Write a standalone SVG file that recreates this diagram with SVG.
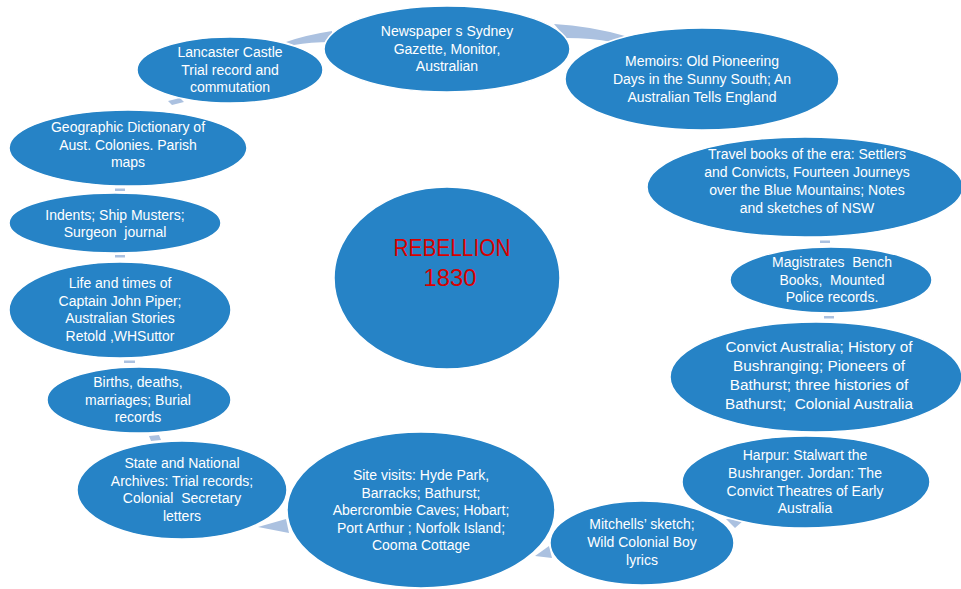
<svg xmlns="http://www.w3.org/2000/svg" width="961" height="589" viewBox="0 0 961 589">
<style>
.n{fill:#2683c6;stroke:#ffffff;stroke-width:1.5}
.t{font-family:"Liberation Sans",Arial,sans-serif;font-size:14px;fill:#ffffff;text-anchor:middle;white-space:pre}
.c{fill:#abc1e0;stroke:none}
.r{font-family:"Liberation Sans",Arial,sans-serif;font-size:23px;fill:#d80000;text-anchor:middle}
</style>
<rect width="961" height="589" fill="#ffffff"/>
<g id="connectors">
<path class="c" d="M286,42 Q306,35 332,31 L332,42 Q310,42 294,45 Z"/>
<path class="c" d="M554,24 Q590,26 625,36 L612,42 Q592,38 566,38 Z"/>
<rect class="c" x="820" y="240.5" width="10" height="2.5"/>
<rect class="c" x="824" y="316" width="10" height="2.5"/>
<path class="c" d="M726,519 L744,520 L735,528 Z"/>
<path class="c" d="M535,556 L549,546 L552,558 Z"/>
<path class="c" d="M258,527 L286,519 L289,533 Z"/>
<path class="c" d="M149,436 L159,435 L161,440 L151,441 Z"/>
<rect class="c" x="124" y="360.5" width="11" height="2.5"/>
<rect class="c" x="115" y="255" width="10" height="2.5"/>
<rect class="c" x="115" y="188.5" width="10" height="2.5"/>
<path class="c" d="M168,101 L180,98 L184,102 L172,105 Z"/>
</g>
<g id="center">
<ellipse class="n" cx="447" cy="278" rx="113" ry="91"/>
<text class="r" x="452" y="256" textLength="117" lengthAdjust="spacingAndGlyphs">REBELLION</text>
<text class="r" x="450" y="286" textLength="53" lengthAdjust="spacingAndGlyphs">1830</text>
</g>
<g id="newspaper">
<ellipse class="n" cx="447" cy="49" rx="123" ry="43"/>
<text class="t" x="447" y="36">Newspaper s Sydney</text>
<text class="t" x="447" y="53.5">Gazette, Monitor,</text>
<text class="t" x="447" y="71">Australian</text>
</g>
<g id="memoirs">
<ellipse class="n" cx="702" cy="79" rx="137" ry="51"/>
<text class="t" x="702" y="66">Memoirs: Old Pioneering</text>
<text class="t" x="702" y="84">Days in the Sunny South; An</text>
<text class="t" x="702" y="102">Australian Tells England</text>
</g>
<g id="travel">
<ellipse class="n" cx="805" cy="187" rx="158" ry="50"/>
<text class="t" x="807" y="159">Travel books of the era: Settlers</text>
<text class="t" x="807" y="177">and Convicts, Fourteen Journeys</text>
<text class="t" x="807" y="195">over the Blue Mountains; Notes</text>
<text class="t" x="807" y="213">and sketches of NSW</text>
</g>
<g id="magistrates">
<ellipse class="n" cx="831" cy="280" rx="101" ry="33"/>
<text class="t" x="832" y="267">Magistrates  Bench</text>
<text class="t" x="832" y="284.5">Books,  Mounted</text>
<text class="t" x="832" y="302">Police records.</text>
</g>
<g id="convict">
<ellipse class="n" cx="816" cy="377" rx="146" ry="55"/>
<text class="t" x="819" y="352" style="font-size:15.3px">Convict Australia; History of</text>
<text class="t" x="819" y="371" style="font-size:15.3px">Bushranging; Pioneers of</text>
<text class="t" x="819" y="390" style="font-size:15.3px">Bathurst; three histories of</text>
<text class="t" x="819" y="409" style="font-size:15.3px">Bathurst;  Colonial Australia</text>
</g>
<g id="harpur">
<ellipse class="n" cx="806" cy="482" rx="124" ry="46"/>
<text class="t" x="805" y="460">Harpur: Stalwart the</text>
<text class="t" x="805" y="478">Bushranger. Jordan: The</text>
<text class="t" x="805" y="496">Convict Theatres of Early</text>
<text class="t" x="805" y="513">Australia</text>
</g>
<g id="mitchells">
<ellipse class="n" cx="642" cy="543" rx="92" ry="42"/>
<text class="t" x="642" y="529">Mitchells’ sketch;</text>
<text class="t" x="642" y="547">Wild Colonial Boy</text>
<text class="t" x="642" y="565">lyrics</text>
</g>
<g id="site">
<ellipse class="n" cx="421" cy="510" rx="134" ry="78"/>
<text class="t" x="421" y="480">Site visits: Hyde Park,</text>
<text class="t" x="421" y="497.5">Barracks; Bathurst;</text>
<text class="t" x="421" y="515">Abercrombie Caves; Hobart;</text>
<text class="t" x="421" y="532.5">Port Arthur ; Norfolk Island;</text>
<text class="t" x="421" y="550">Cooma Cottage</text>
</g>
<g id="state">
<ellipse class="n" cx="182" cy="490" rx="105" ry="49"/>
<text class="t" x="182" y="468">State and National</text>
<text class="t" x="182" y="486">Archives: Trial records;</text>
<text class="t" x="182" y="503">Colonial  Secretary</text>
<text class="t" x="182" y="521">letters</text>
</g>
<g id="births">
<ellipse class="n" cx="139" cy="400" rx="92" ry="33"/>
<text class="t" x="138" y="387">Births, deaths,</text>
<text class="t" x="138" y="404.5">marriages; Burial</text>
<text class="t" x="138" y="422">records</text>
</g>
<g id="life">
<ellipse class="n" cx="120" cy="310" rx="111" ry="48"/>
<text class="t" x="120" y="288">Life and times of</text>
<text class="t" x="120" y="305.5">Captain John Piper;</text>
<text class="t" x="120" y="323">Australian Stories</text>
<text class="t" x="120" y="340.5">Retold ,WHSuttor</text>
</g>
<g id="indents">
<ellipse class="n" cx="115" cy="223" rx="106" ry="30"/>
<text class="t" x="115" y="220">Indents; Ship Musters;</text>
<text class="t" x="115" y="237">Surgeon  journal</text>
</g>
<g id="geographic">
<ellipse class="n" cx="128" cy="148" rx="119" ry="38"/>
<text class="t" x="128" y="132">Geographic Dictionary of</text>
<text class="t" x="128" y="149.5">Aust. Colonies. Parish</text>
<text class="t" x="128" y="167">maps</text>
</g>
<g id="lancaster">
<ellipse class="n" cx="230" cy="70" rx="93" ry="33"/>
<text class="t" x="230" y="57">Lancaster Castle</text>
<text class="t" x="230" y="74.5">Trial record and</text>
<text class="t" x="230" y="92">commutation</text>
</g>
</svg>
